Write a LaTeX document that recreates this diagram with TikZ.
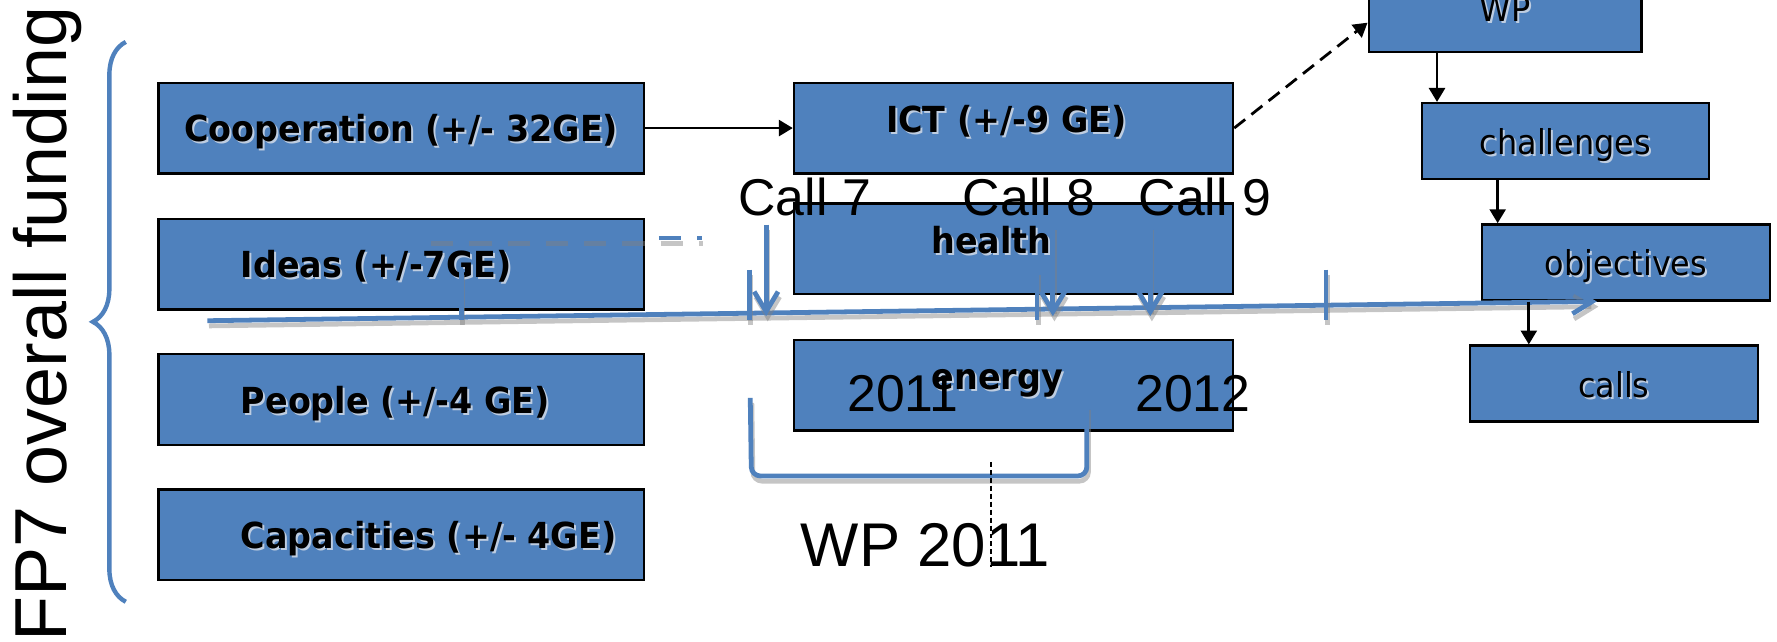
\documentclass[tikz,border=0pt]{standalone}
\usepackage{fontspec}
\setmainfont{Liberation Sans}
\newfontfamily\boxfont[FakeStretch=0.93]{DejaVu Sans}
\usetikzlibrary{arrows.meta,positioning,decorations.pathreplacing}

\definecolor{boxblue}{RGB}{79,129,189}
\definecolor{shadowc}{RGB}{190,205,225}
\newcommand\shd[1]{\leavevmode\rlap{\kern0.5pt\raisebox{-0.5pt}{\color{shadowc}#1}}#1}

\tikzset{
  box/.style={draw=black, line width=0.6pt, fill=boxblue, inner sep=0pt,
    minimum height=0.8cm, text height=0.24cm, text depth=0cm,
    font=\boxfont\bfseries\fontsize{9}{10}\selectfont},
  sbox/.style={box, minimum height=0.67cm, font=\boxfont\fontsize{8.6}{10}\selectfont},
  lbl/.style={inner sep=0pt, text height=0.24cm, text depth=0cm,
    font=\boxfont\bfseries\fontsize{9}{10}\selectfont},
  big/.style={inner xsep=0pt, inner ysep=2pt, font=\fontsize{13}{15}\selectfont},
  tline/.style={preaction={draw=black!50, draw opacity=0.45, line width=1.2pt, #1,
      transform canvas={shift={(0.4pt,-1.3pt)}}},
    draw=boxblue, line width=1.2pt, #1},
  tline/.default={},
  barb/.style={-{Straight Barb[length=5pt,width=6pt]}},
  arr/.style={-{Triangle[length=3.5pt,width=4pt]}, line width=0.7pt},
}

\begin{document}
\begin{tikzpicture}
  \path[fill=white, use as bounding box] (0,0) rectangle (15.68,-5.66);

  % programmes
  \node[box, minimum width=4.28cm] (coop) at (3.54,-1.13) {\shd{Cooperation (+/- 32GE)}};
  \node[box, minimum width=4.28cm] (ideas) at (3.54,-2.33) {};
  \node[box, minimum width=4.28cm] (people) at (3.54,-3.525) {};
  \node[box, minimum width=4.28cm] (capa) at (3.54,-4.72) {};
  \node[lbl, right=0.73cm of ideas.west] (ideas-t) {\shd{Ideas (+/-7GE)}};
  \node[lbl, right=0.73cm of people.west] (people-t) {\shd{People (+/-4 GE)}};
  \node[lbl, right=0.73cm of capa.west] (capa-t) {\shd{Capacities (+/- 4GE)}};

  % themes
  \node[box, minimum width=3.874cm] (ict) at (8.943,-1.13) {};
  \node[box, minimum width=3.874cm] (health) at (8.943,-2.195) {};
  \node[box, minimum width=3.874cm] (energy) at (8.943,-3.398) {};
  \node[lbl] (ict-t) at ([xshift=-0.063cm, yshift=0.08cm]ict.center) {\shd{ICT (+/-9 GE)}};
  \node[lbl] (health-t) at ([xshift=-0.195cm, yshift=0.08cm]health.center) {\shd{health}};
  \node[lbl] (energy-t) at ([xshift=-0.143cm, yshift=0.078cm]energy.center) {\shd{energy}};

  % work programme
  \node[sbox, minimum width=2.405cm, minimum height=0.78cm] (wp) at (13.28,-0.07) {\shd{WP}};
  \node[sbox, minimum width=2.535cm] (chal) at (13.8125,-1.245) {\shd{challenges}};
  \node[sbox, minimum width=2.545cm] (obj) at (14.3475,-2.315) {\shd{objectives}};
  \node[sbox, minimum width=2.54cm] (calls) at (14.24,-3.385) {\shd{calls}};

  % time line
  \coordinate (t0) at (1.83,-2.83);
  \coordinate (t1) at (14.09,-2.66);
  \draw[tline=barb] (t0) -- (t1);
  \foreach \x in {4.07,6.61,9.15,11.70}
    \draw[tline] (\x,-2.38) -- (\x,-2.82);
  \draw[tline={dash pattern=on 5.6pt off 4pt}] (3.79,-2.10) -- (6.19,-2.10);
  \draw[tline={rounded corners=0.08cm}] (6.62,-3.51) -- (6.63,-4.20) -- (9.59,-4.20) -- (9.59,-3.57);
  \draw[draw=boxblue, line width=1.1pt, decorate, decoration={brace, amplitude=0.29cm}] (1.11,-5.31) -- (1.11,-0.37);

  \node[big, anchor=base west] (call7) at (6.51,-1.90) {Call 7};
  \node[big, anchor=base west] (call8) at (8.49,-1.90) {Call 8};
  \node[big, anchor=base west] (call9) at (10.04,-1.90) {Call 9};
  \coordinate (c7) at (6.76,-2.79);
  \coordinate (c8) at (9.29,-2.79);
  \coordinate (c9) at (10.15,-2.79);
  \draw[tline=barb] (call7.south -| c7) -- (c7);
  \draw[tline=barb] (call8.south -| c8) -- (c8);
  \draw[tline=barb] (call9.south -| c9) -- (c9);

  \node[big, anchor=base west] (y2011) at (7.47,-3.634) {2011};
  \node[big, anchor=base west] (y2012) at (10.01,-3.634) {2012};
  \node[big, anchor=base west, font=\fontsize{15.5}{18}\selectfont] (wp2011) at (7.06,-5.00) {WP 2011};
  \draw[line width=0.5pt, dash pattern=on 1.25pt off 0.75pt] (8.745,-4.075) -- (8.745,-5.00);

  \node[rotate=90, anchor=base, inner sep=0pt, font=\fontsize{18.5}{20}\selectfont] (fp7) at (0.59,-2.86) {FP7 overall funding};

  % links
  \coordinate (a1) at (12.68,0);
  \coordinate (a2) at (13.215,0);
  \coordinate (a3) at (13.49,0);
  \draw[arr] (coop) -- (ict);
  \draw[arr, dash pattern=on 3.5pt off 2pt] (ict.east) -- ([yshift=-0.13cm]wp.west);
  \draw[arr] (wp.south -| a1) -- (chal.north -| a1);
  \draw[arr] (chal.south -| a2) -- (obj.north -| a2);
  \draw[arr] (obj.south -| a3) -- (calls.north -| a3);
\end{tikzpicture}
\end{document}
